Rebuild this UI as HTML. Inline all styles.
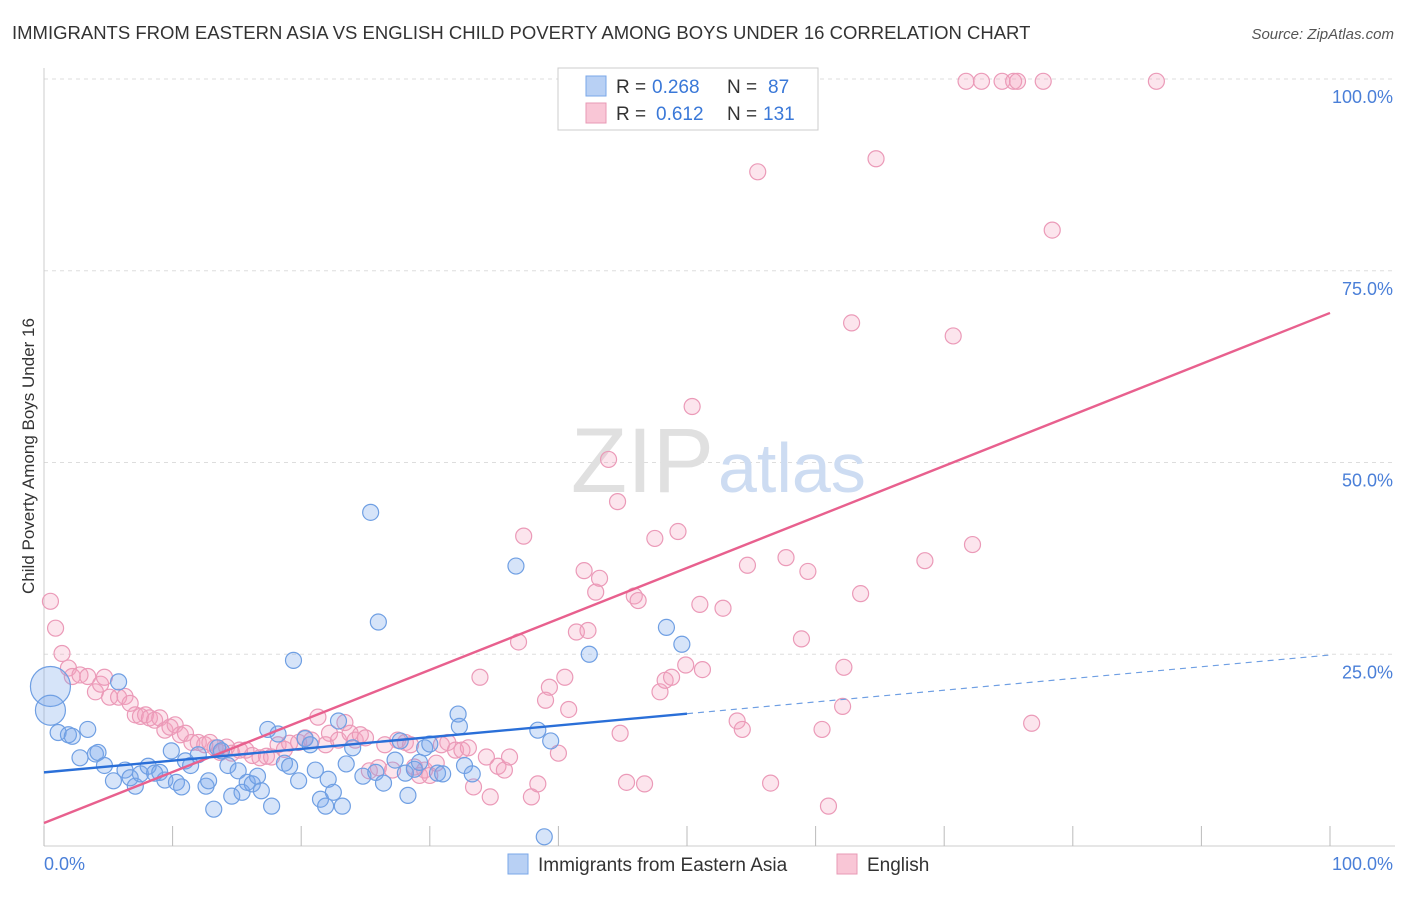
<!DOCTYPE html>
<html><head><meta charset="utf-8"><style>
body{margin:0;background:#fff;font-family:"Liberation Sans",sans-serif;}
svg text{font-family:"Liberation Sans",sans-serif;}
</style></head><body>
<svg id="chart" width="1406" height="892" xmlns="http://www.w3.org/2000/svg">
<text x="12" y="39" font-size="18.5" fill="#333">IMMIGRANTS FROM EASTERN ASIA VS ENGLISH CHILD POVERTY AMONG BOYS UNDER 16 CORRELATION CHART</text>
<text x="1394" y="39" font-size="15" fill="#555" font-style="italic" text-anchor="end">Source: ZipAtlas.com</text>
<text x="34" y="456" font-size="17" fill="#333" text-anchor="middle" transform="rotate(-90 34 456)">Child Poverty Among Boys Under 16</text>
<g id="grid"></g>
<g id="ticks"></g>
<text x="714" y="492" font-size="92" fill="#e0e0e0" text-anchor="end" font-family="Liberation Serif">ZIP</text>
<text x="718" y="492" font-size="70" fill="#cddcf2">atlas</text>
<g id="points"></g>
<g id="lines"></g>
<g>
<rect x="558" y="68" width="260" height="62" fill="#fff" stroke="#ccc"/>
<rect x="586" y="76" width="20" height="20" fill="#b8d0f4" stroke="#7aa7e8"/>
<rect x="586" y="103" width="20" height="20" fill="#f9c6d6" stroke="#e899b5"/>
<text x="616" y="93" font-size="19" fill="#333">R =</text>
<text x="652" y="93" font-size="19" fill="#3a78d8">0.268</text>
<text x="727" y="93" font-size="19" fill="#333">N =</text>
<text x="768" y="93" font-size="19" fill="#3a78d8">87</text>
<text x="616" y="120" font-size="19" fill="#333">R =</text>
<text x="656" y="120" font-size="19" fill="#3a78d8">0.612</text>
<text x="727" y="120" font-size="19" fill="#333">N =</text>
<text x="763" y="120" font-size="19" fill="#3a78d8">131</text>
</g>
<g>
<rect x="508" y="854" width="20" height="20" fill="#b8d0f4" stroke="#7aa7e8"/>
<text x="538" y="871" font-size="19" fill="#333">Immigrants from Eastern Asia</text>
<rect x="837" y="854" width="20" height="20" fill="#f9c6d6" stroke="#e899b5"/>
<text x="867" y="871" font-size="19" fill="#333">English</text>
</g>
<text x="44" y="870" font-size="18" fill="#4a7fd8">0.0%</text>
<text x="1393" y="870" font-size="18" fill="#4a7fd8" text-anchor="end">100.0%</text>
</svg>
<script>
const yTicks=[25,50,75,100];
const yTickLabels=["25.0%","50.0%","75.0%","100.0%"];
const blueX=[0.5,0.5,1.1,1.9,2.2,3.4,2.8,4,4.2,4.7,5.4,5.8,6.3,6.7,7.1,7.5,8.1,8.6,9,9.4,9.9,10.3,10.7,11,11.4,12,12.6,12.8,13.2,13.5,13.8,14.3,14.6,15.1,15.4,15.8,16.2,16.6,16.9,17.4,17.7,18.2,18.7,19.1,19.4,19.8,20.3,20.7,21.1,21.5,21.9,22.1,22.5,22.9,23.2,23.5,24,24.8,25.4,25.8,26,26.4,27.3,27.7,28.1,28.3,28.8,29.2,29.6,30,30.6,31,32.2,32.3,32.7,33.3,36.7,38.4,38.9,39.4,42.4,48.4,49.6];
const blueY=[20.8,17.7,14.8,14.5,14.3,15.2,11.5,12,12.2,10.5,8.5,21.4,9.9,8.9,7.8,9.4,10.4,9.5,9.6,8.6,12.4,8.3,7.7,11.1,10.5,11.9,7.8,8.5,4.8,12.8,12.4,10.5,6.5,9.8,7,8.3,8.1,9.1,7.2,15.2,5.2,14.6,10.8,10.4,24.2,8.5,14,13.2,9.9,6.1,5.2,8.7,7,16.3,5.2,10.7,12.8,9.1,43.5,9.6,29.2,8.2,11.2,13.7,9.5,6.6,10,10.9,12.8,13.3,9.5,9.4,17.2,15.6,10.5,9.4,36.5,15.1,1.2,13.7,25,28.5,26.3];
const blueR=[20,15];
const pinkX=[0.5,0.9,1.4,1.9,2.2,2.8,3.4,4.0,4.4,4.7,5.1,5.8,6.3,6.7,7.1,7.5,7.9,8.2,8.6,9.0,9.4,9.8,10.2,10.6,11.0,11.5,12.0,12.5,12.9,13.3,13.7,14.2,14.6,15.2,15.7,16.2,16.8,17.3,17.7,18.2,18.7,19.1,19.8,20.3,20.8,21.3,21.9,22.2,22.9,23.4,23.8,24.2,24.6,25.0,25.3,26.0,26.5,27.1,27.5,28.1,28.5,28.8,29.2,29.6,30.0,30.5,30.9,31.4,32.0,32.5,33.0,33.4,33.9,34.4,34.7,35.3,35.8,36.2,36.9,37.3,37.9,38.4,39.0,39.3,40.0,40.5,40.8,41.4,42.0,42.3,42.9,43.2,43.9,44.6,44.8,45.3,45.9,46.2,46.7,47.5,47.9,48.3,48.8,49.3,49.9,50.4,51.0,51.2,52.8,53.9,54.3,54.7,55.5,56.5,57.7,58.9,59.4,60.5,61.0,62.1,62.2,62.8,63.5,64.7,68.5,70.7,71.7,72.9,74.5,75.4,75.7,77.7,78.4,76.8,86.5,72.2];
const pinkY=[31.9,28.4,25.1,23.2,22.1,22.3,22.1,20.1,21.1,22.0,19.4,19.4,19.5,18.6,17.1,16.9,17.1,16.7,16.4,16.7,15.1,15.5,15.8,14.5,14.7,13.5,13.5,13.2,13.5,12.8,12.2,12.9,12.1,12.5,12.5,11.8,11.5,11.7,11.6,13.2,12.6,13.4,13.5,14.1,13.8,16.8,13.2,14.7,13.8,16.1,14.7,13.8,14.5,14.1,9.8,10.2,13.2,9.9,13.8,13.5,13.2,10.3,9.2,9.9,9.2,10.8,13.2,13.5,12.5,12.5,12.8,7.7,22.0,11.6,6.4,10.4,9.9,11.6,26.6,40.4,6.4,8.1,19.0,20.7,12.1,22.0,17.8,27.9,35.9,28.1,33.1,34.9,50.4,44.9,14.7,8.3,32.6,32.0,8.1,40.1,20.1,21.6,22.0,41.0,23.6,57.3,31.5,23.0,31.0,16.3,15.2,36.6,87.9,8.2,37.6,27.0,35.8,15.2,5.2,18.2,23.3,68.2,32.9,89.6,37.2,66.5,99.7,99.7,99.7,99.7,99.7,99.7,80.3,16.0,99.7,39.3];
const ns="http://www.w3.org/2000/svg";
const X0=44,X1=1330,Y0=846,Y100=79;
function xs(v){return X0+(X1-X0)*v/100;}
function ys(v){return Y0-(Y0-Y100)*v/100;}
const grid=document.getElementById('grid'),ticks=document.getElementById('ticks');
yTicks.forEach((t,i)=>{
 const l=document.createElementNS(ns,'line');
 
 
 l.setAttribute('x1',X0);l.setAttribute('x2',1395);l.setAttribute('y1',ys(t));l.setAttribute('y2',ys(t));
 l.setAttribute('stroke','#ddd');l.setAttribute('stroke-dasharray','4 4');grid.appendChild(l);
 const tx=document.createElementNS(ns,'text');
 
 
 tx.setAttribute('x',1393);tx.setAttribute('y',ys(t)+24);tx.setAttribute('text-anchor','end');
 tx.setAttribute('font-size','18');tx.setAttribute('fill','#4a7fd8');tx.textContent=yTickLabels[i];ticks.appendChild(tx);
});
const ax=document.createElementNS(ns,'line');


ax.setAttribute('x1',X0);ax.setAttribute('x2',1395);ax.setAttribute('y1',Y0);ax.setAttribute('y2',Y0);ax.setAttribute('stroke','#ccc');ticks.appendChild(ax);
const ay=document.createElementNS(ns,'line');


ay.setAttribute('x1',X0);ay.setAttribute('x2',X0);ay.setAttribute('y1',68);ay.setAttribute('y2',Y0);ay.setAttribute('stroke','#ccc');ticks.appendChild(ay);
for(let i=0;i<=10;i++){
 const t=document.createElementNS(ns,'line');
 
 
 t.setAttribute('x1',xs(i*10));t.setAttribute('x2',xs(i*10));t.setAttribute('y1',826);t.setAttribute('y2',Y0);t.setAttribute('stroke','#bbb');ticks.appendChild(t);
}
const pts=document.getElementById('points');
function dot(x,y,r,fill,stroke,name){
 const c=document.createElementNS(ns,'circle');
 
 
 c.setAttribute('cx',xs(x));c.setAttribute('cy',ys(y));c.setAttribute('r',r);
 c.setAttribute('fill',fill);c.setAttribute('stroke',stroke);c.setAttribute('stroke-width','1.2');pts.appendChild(c);
}
pinkX.forEach((x,i)=>dot(x,pinkY[i],8,'rgba(246,160,190,0.28)','#eb9ab8','english-point'));
blueX.forEach((x,i)=>dot(x,blueY[i],i<blueR.length?blueR[i]:8,'rgba(120,165,235,0.3)','#6f9fe3','eastern-asia-point'));
const lines=document.getElementById('lines');
function line(x1,y1,x2,y2,col,dash,name){
 const l=document.createElementNS(ns,'line');
 
 
 l.setAttribute('x1',xs(x1));l.setAttribute('y1',ys(y1));l.setAttribute('x2',xs(x2));l.setAttribute('y2',ys(y2));
 l.setAttribute('stroke',col);l.setAttribute('stroke-width',dash?1.2:2.4);if(dash)l.setAttribute('stroke-dasharray','6 5');lines.appendChild(l);
}
const blueFit=[9.6,24.9],pinkFit=[3.0,69.5];
line(0,pinkFit[0],100,pinkFit[1],'#e8608e',false,'english-trend-line');
const bm=50;
line(0,blueFit[0],bm,blueFit[0]+(blueFit[1]-blueFit[0])*bm/100,'#2a6fd8',false,'eastern-asia-trend-line');
line(bm,blueFit[0]+(blueFit[1]-blueFit[0])*bm/100,100,blueFit[1],'#6f9fe3',true,'eastern-asia-trend-extension');
</script>
</body></html>
